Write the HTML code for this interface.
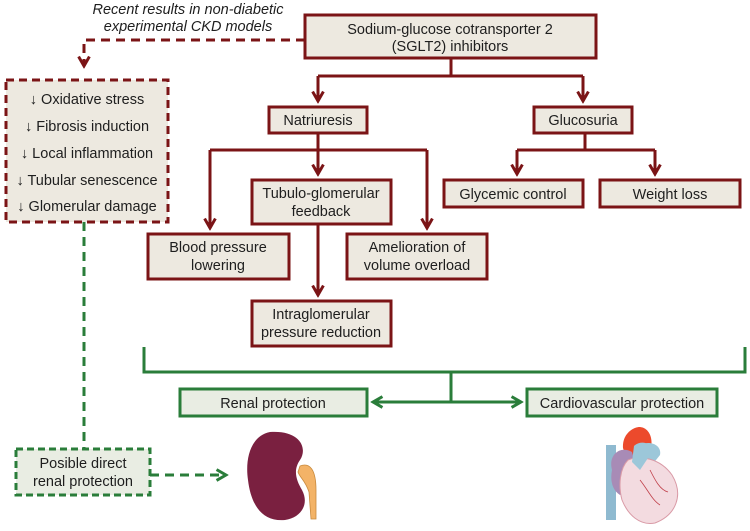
<!DOCTYPE html>
<html><head><meta charset="utf-8"><style>
html,body{margin:0;padding:0;background:#fff;width:750px;height:531px;overflow:hidden}
svg{display:block}
text{font-family:"Liberation Sans",Arial,sans-serif;fill:#1e1e1e;font-size:14.5px}
</style></head><body>
<svg width="750" height="531" viewBox="0 0 750 531" xmlns="http://www.w3.org/2000/svg">
<defs>
<marker id="ar" viewBox="0 0 10 10" refX="8" refY="5" markerWidth="4.5" markerHeight="4.5" orient="auto"><path d="M1,1 L8,5 L1,9" fill="none" stroke="#7b1416" stroke-width="2.2"/></marker>
<marker id="ag" viewBox="0 0 10 10" refX="8" refY="5" markerWidth="4.5" markerHeight="4.5" orient="auto"><path d="M1,1 L8,5 L1,9" fill="none" stroke="#2a7d3a" stroke-width="2.2"/></marker>
</defs>
<g fill="none" stroke="#7b1416" stroke-width="3">
<path d="M305,40 H84 V66" stroke-dasharray="9,6" marker-end="url(#ar)"/>
<path d="M451,58 V76 M318,76 H583"/>
<path d="M318,76 V101" marker-end="url(#ar)"/>
<path d="M583,76 V101" marker-end="url(#ar)"/>
<path d="M318,133 V150 M210,150 H427"/>
<path d="M318,150 V174" marker-end="url(#ar)"/>
<path d="M210,150 V228" marker-end="url(#ar)"/>
<path d="M427,150 V228" marker-end="url(#ar)"/>
<path d="M318,224 V295" marker-end="url(#ar)"/>
<path d="M585,133 V150 M517,150 H655"/>
<path d="M517,150 V174" marker-end="url(#ar)"/>
<path d="M655,150 V174" marker-end="url(#ar)"/>
</g>
<g fill="#ede9e0" stroke="#7b1416" stroke-width="3">
<rect x="305" y="15" width="291" height="43"/>
<rect x="269" y="107" width="98" height="26"/>
<rect x="534" y="107" width="98" height="26"/>
<rect x="252" y="180" width="139" height="44"/>
<rect x="444" y="180" width="139" height="27"/>
<rect x="600" y="180" width="140" height="27"/>
<rect x="148" y="234" width="141" height="45"/>
<rect x="347" y="234" width="140" height="45"/>
<rect x="252" y="301" width="139" height="45"/>
<rect x="6" y="80" width="162" height="142" stroke-dasharray="8,5"/>
</g>
<g text-anchor="middle">
<text x="188" y="14" font-style="italic" font-size="14">Recent results in non-diabetic</text>
<text x="188" y="31" font-style="italic" font-size="14">experimental CKD models</text>
<text x="450" y="34">Sodium-glucose cotransporter 2</text>
<text x="450" y="51">(SGLT2) inhibitors</text>
<text x="318" y="125">Natriuresis</text>
<text x="583" y="125">Glucosuria</text>
<text x="321" y="198">Tubulo-glomerular</text>
<text x="321" y="216">feedback</text>
<text x="513" y="199">Glycemic control</text>
<text x="670" y="199">Weight loss</text>
<text x="218" y="252">Blood pressure</text>
<text x="218" y="270">lowering</text>
<text x="417" y="252">Amelioration of</text>
<text x="417" y="270">volume overload</text>
<text x="321" y="319">Intraglomerular</text>
<text x="321" y="337">pressure reduction</text>
<text x="87" y="104">↓ Oxidative stress</text>
<text x="87" y="131">↓ Fibrosis induction</text>
<text x="87" y="158">↓ Local inflammation</text>
<text x="87" y="185">↓ Tubular senescence</text>
<text x="87" y="211">↓ Glomerular damage</text>
</g>
<g fill="none" stroke="#2a7d3a" stroke-width="3">
<path d="M144,347 V372 H745 V347"/>
<path d="M451,372 V402"/>
<path d="M451,402 H373" marker-end="url(#ag)"/>
<path d="M451,402 H521" marker-end="url(#ag)"/>
<path d="M84,222 V449" stroke-dasharray="9,6"/>
<path d="M150,475 H226" stroke-dasharray="9,6" marker-end="url(#ag)"/>
</g>
<g fill="#e9ede3" stroke="#2a7d3a" stroke-width="3">
<rect x="180" y="389" width="187" height="27"/>
<rect x="527" y="389" width="190" height="27"/>
<rect x="16" y="449" width="134" height="46" stroke-dasharray="7,4"/>
</g>
<g text-anchor="middle" font-size="14">
<text x="273" y="408" font-size="14">Renal protection</text>
<text x="622" y="408" font-size="14">Cardiovascular protection</text>
<text x="83" y="468" font-size="14">Posible direct</text>
<text x="83" y="486" font-size="14">renal protection</text>
</g>
<path d="M270,432 C250,436 245,460 248,480 C251,505 262,522 285,520 C300,518 310,505 302,490 C296,480 293,470 300,460 C308,448 300,430 270,432 Z" fill="#7a2040"/>
<path d="M300,466 C310,462 316,470 316,490 L316,519 L311,519 L309,492 C305,480 300,478 298,472 Z" fill="#f3b367" stroke="#c88a3e" stroke-width="0.8"/>
<rect x="606" y="445" width="10" height="75" fill="#8fbad0"/>
<path d="M623,448 C622,435 632,427 640,427 C650,428 654,440 650,452 L626,458 Z" fill="#ec4a2c"/>
<path d="M640,445 C650,440 662,445 660,455 L648,470 Z" fill="#9cc7d9"/>
<path d="M612,470 C608,455 620,445 632,452 C638,470 632,490 620,495 C612,490 610,480 612,470 Z" fill="#a88bb6"/>
<path d="M628,460 C640,455 660,458 672,475 C684,495 676,515 655,523 C640,526 628,515 622,500 C618,485 620,468 628,460 Z" fill="#f3dbe0" stroke="#d99aa6" stroke-width="1"/>
<path d="M634,446 C640,440 652,442 652,452 L640,470 L632,462 Z" fill="#9cc7d9"/>
<path d="M640,480 C648,490 652,500 660,505 M650,470 C655,480 660,490 668,492" stroke="#c0404a" stroke-width="0.8" fill="none"/>
</svg>
</body></html>
